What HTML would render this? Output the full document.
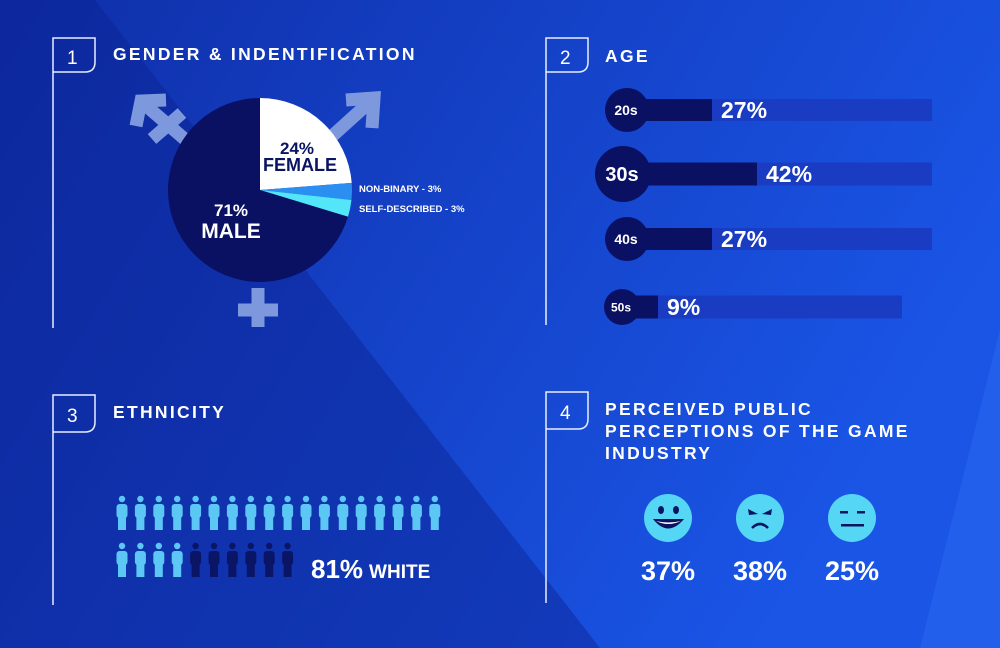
<!DOCTYPE html>
<html><head><meta charset="utf-8"><style>
html,body{margin:0;padding:0;width:1000px;height:648px;overflow:hidden;font-family:"Liberation Sans",sans-serif}
svg{display:block}
text{font-family:"Liberation Sans",sans-serif;font-weight:bold;fill:#fff}
</style></head><body>
<svg width="1000" height="648" viewBox="0 0 1000 648">
<defs>
<linearGradient id="bg" x1="0" y1="0" x2="1" y2="0.4">
<stop offset="0" stop-color="#0f2ea8"/><stop offset="1" stop-color="#1a55e6"/></linearGradient>
</defs>
<rect width="1000" height="648" fill="url(#bg)"/>
<polygon points="0,0 95,0 600,648 0,648" fill="#0c2190" opacity="0.45"/>
<polygon points="920,648 1000,330 1000,648" fill="#2d6ff2" opacity="0.45"/>

<g fill="none" stroke="#e8eeff" stroke-width="1.5">
<path d="M53,328 V38 H95 V62 Q95,72 85,72 H53"/>
<path d="M546,325 V38 H588 V62 Q588,72 578,72 H546"/>
<path d="M53,605 V395 H95 V422 Q95,432 85,432 H53"/>
<path d="M546,603 V392 H588 V419 Q588,429 578,429 H546"/>
</g>
<g font-size="19">
<text x="67" y="64" style="font-weight:normal">1</text>
<text x="560" y="64" style="font-weight:normal">2</text>
<text x="67" y="422" style="font-weight:normal">3</text>
<text x="560" y="419" style="font-weight:normal">4</text>
</g>
<g font-size="17.5" letter-spacing="2.3">
<text x="113" y="60">GENDER &amp; INDENTIFICATION</text>
<text x="605" y="62">AGE</text>
<text x="113" y="418">ETHNICITY</text>
<text x="605" y="415">PERCEIVED PUBLIC</text>
<text x="605" y="437">PERCEPTIONS OF THE GAME</text>
<text x="605" y="459">INDUSTRY</text>
</g>

<g stroke="#7d98dc" stroke-width="13" fill="none" stroke-linecap="butt">
<line x1="195" y1="148" x2="144" y2="104"/>
<polyline points="136,126 141,101 166,100" stroke-linejoin="miter"/>
<line x1="152" y1="139" x2="182" y2="113"/>
<line x1="330" y1="138" x2="372" y2="100"/>
<polyline points="346,100 374,98 372,128" stroke-linejoin="miter"/>
<line x1="258" y1="288" x2="258" y2="327"/>
<line x1="238" y1="310" x2="278" y2="310"/>
</g>
<g id="pie"></g>
<text x="297" y="154" font-size="17" text-anchor="middle" style="fill:#0a1460">24%</text>
<text x="300" y="171" font-size="18" text-anchor="middle" style="fill:#0a1460">FEMALE</text>
<text x="231" y="216" font-size="17" text-anchor="middle">71%</text>
<text x="231" y="238" font-size="21" text-anchor="middle">MALE</text>
<text x="359" y="192" font-size="9.5">NON-BINARY - 3%</text>
<text x="359" y="212" font-size="9.5">SELF-DESCRIBED - 3%</text>

<g id="age"></g>
<g id="people"></g>
<text x="311" y="578" font-size="26">81%<tspan font-size="19" dx="6">WHITE</tspan></text>

<g>
<circle cx="668" cy="518" r="24" fill="#55d6f4"/>
<ellipse cx="661" cy="510" rx="3" ry="4" fill="#0a1460"/><ellipse cx="676" cy="510" rx="3" ry="4" fill="#0a1460"/>
<path d="M653,519 Q668,538 684,519 Z" fill="#0a1460"/><path d="M656,521 Q668,527 681,521 Q668,524 656,521Z" fill="#fff"/>
</g>
<g>
<circle cx="760" cy="518" r="24" fill="#55d6f4"/>
<path d="M748,509 L758,514 L749,515Z M772,509 L762,514 L771,515Z" fill="#0a1460"/>
<path d="M752,528 Q760,520 768,528" stroke="#0a1460" stroke-width="2.5" fill="none"/>
</g>
<g>
<circle cx="852" cy="518" r="24" fill="#55d6f4"/>
<rect x="840" y="511" width="8" height="2.5" fill="#0a1460"/><rect x="857" y="511" width="8" height="2.5" fill="#0a1460"/>
<rect x="841" y="524" width="23" height="2.5" fill="#0a1460"/>
</g>
<g id="percept"></g>
</svg>
<script>
const pieLabels=['Female','Non-binary','Self-described','Male'];
const pieValues=[24,3,3,71];
const ageLabels=['20s','30s','40s','50s'];
const ageValues=[27,42,27,9];
const whiteCount=[22];
const totalPeople=[28];
const percLabels=['positive','negative','neutral'];
const percValues=[37,38,25];

const ns='http://www.w3.org/2000/svg';
function mk(t,a,p){const e=document.createElementNS(ns,t);for(const k in a)e.setAttribute(k,a[k]);p.appendChild(e);return e;}

const pieColors=['#ffffff','#2a8ff0','#52e6f8','#0a1062'];
const cx=260,cy=190,R=92;
const pieG=document.getElementById('pie');
const tot=pieValues.reduce((a,b)=>a+b,0);
let ang=-Math.PI/2;
pieValues.forEach((v,i)=>{
  const a2=ang+v/tot*2*Math.PI;
  const x1=cx+R*Math.cos(ang),y1=cy+R*Math.sin(ang),x2=cx+R*Math.cos(a2),y2=cy+R*Math.sin(a2);
  const p=mk('path',{d:`M${cx},${cy} L${x1},${y1} A${R},${R} 0 ${a2-ang>Math.PI?1:0} 1 ${x2},${y2} Z`,fill:pieColors[i]},pieG);
  
  
  ang=a2;
});

const ageG=document.getElementById('age');
const rowY=[110,174,239,307], rowR=[22,28,22,18], rowH=[22,23,22,23], trackEnd=[932,932,932,902], fs=[14,20,14,12], circX=[627,623,627,622];
const bx=v=>631+v*3;
ageValues.forEach((v,i)=>{
  const y=rowY[i];
  const t=mk('rect',{x:620,y:y-rowH[i]/2,width:trackEnd[i]-620,height:rowH[i],fill:'#1a3cc2'},ageG);
  
  
  const b=mk('rect',{x:620,y:y-rowH[i]/2,width:bx(v)-620,height:rowH[i],fill:'#0a1062'},ageG);
  
  
  const c=mk('circle',{cx:circX[i],cy:y,r:rowR[i],fill:'#0a1062'},ageG);
  
  
  const l=mk('text',{x:circX[i]-1,y:y+fs[i]*0.36,'font-size':fs[i],'text-anchor':'middle'},ageG);
  l.textContent=ageLabels[i];
  
  
  const vt=mk('text',{x:bx(v)+9,y:y+8,'font-size':23},ageG);
  vt.textContent=v+'%';
  
  
});

const pg=document.getElementById('people');
for(let k=0;k<totalPeople[0];k++){
  const row=k<18?0:1,col=k<18?k:k-18;
  const x=122+col*18.4,y=row?560:513;
  const col2=k<whiteCount[0]?'#5cc6f4':'#0b1566';
  const g=mk('g',{fill:col2},pg);
  
  
  mk('circle',{cx:x,cy:y-14,r:3.2},g);
  mk('rect',{x:x-5.5,y:y-9,width:11,height:14,rx:3},g);
  mk('rect',{x:x-4,y:y,width:8,height:17},g);
}

const pcg=document.getElementById('percept');
percValues.forEach((v,i)=>{
  const t=mk('text',{x:668+i*92,y:580,'font-size':27,'text-anchor':'middle'},pcg);
  t.textContent=v+'%';
  
  
});
</script>
</body></html>
